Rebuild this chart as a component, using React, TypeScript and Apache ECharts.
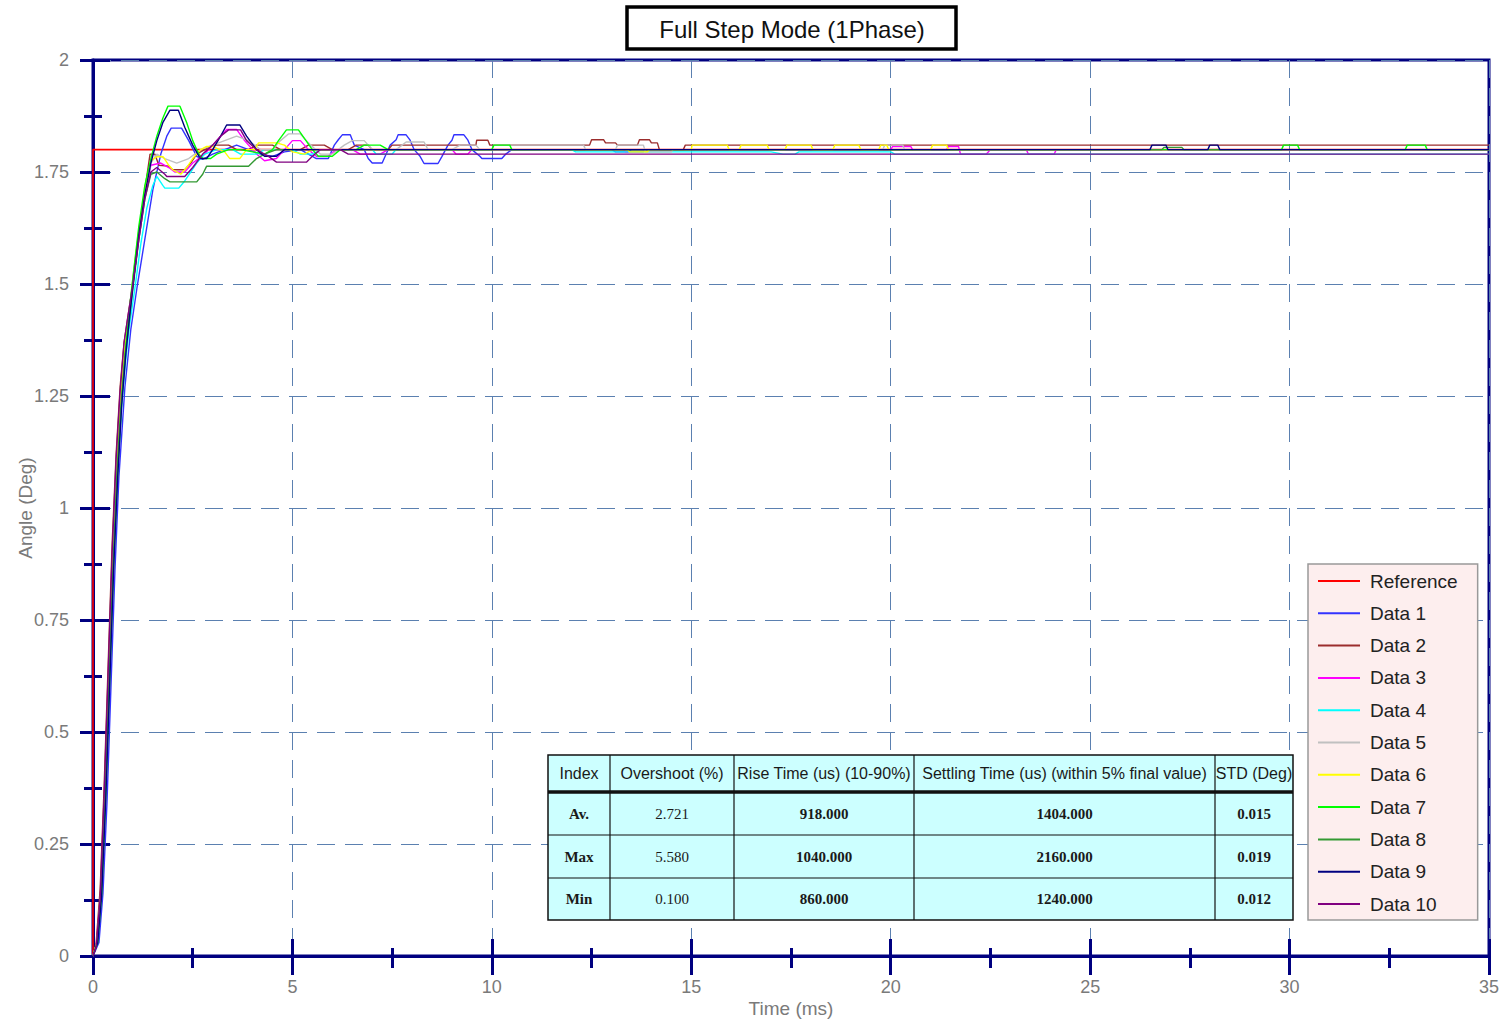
import React, { useEffect, useRef } from "react";
import * as echarts from "echarts";

const chartTitle = "Full Step Mode (1Phase)";
const xAxisName = "Time (ms)";
const yAxisName = "Angle (Deg)";

const seriesNames = ["Reference", "Data 1", "Data 2", "Data 3", "Data 4", "Data 5", "Data 6", "Data 7", "Data 8", "Data 9", "Data 10"];
const seriesColors = ["#ff0000", "#3333ff", "#9b2d2d", "#ff00ff", "#00ffff", "#c0c0c0", "#ffff00", "#00ff00", "#339933", "#000080", "#800080"];

const referencePoints = [[0, 0], [0, 1.8], [35, 1.8]];

const data1Points = [
  [0, 0], [0.15, 0.03], [0.25, 0.14], [0.35, 0.34], [0.45, 0.6], [0.55, 0.86], [0.65, 1.07], [0.8, 1.27], [0.95, 1.4], [1.1, 1.49],
  [1.3, 1.6], [1.5, 1.71], [1.7, 1.79], [1.85, 1.83], [1.96, 1.848], [2.22, 1.848], [2.4, 1.82], [2.6, 1.785], [2.75, 1.778], [3.0, 1.79],
  [3.3, 1.8], [3.6, 1.81], [3.9, 1.8], [4.2, 1.79], [4.5, 1.785], [4.8, 1.795], [5.2, 1.8], [5.6, 1.78], [5.9, 1.78], [6.05, 1.81],
  [6.15, 1.822], [6.25, 1.833], [6.45, 1.833], [6.55, 1.81], [6.8, 1.8], [6.9, 1.78], [7.0, 1.77], [7.25, 1.77], [7.35, 1.79], [7.45, 1.81],
  [7.6, 1.822], [7.65, 1.833], [7.85, 1.833], [7.95, 1.821], [8.05, 1.8], [8.2, 1.785], [8.3, 1.769], [8.65, 1.769], [8.75, 1.785], [8.9, 1.81],
  [9.0, 1.821], [9.05, 1.833], [9.3, 1.833], [9.4, 1.821], [9.5, 1.8], [9.7, 1.785], [9.75, 1.78], [10.25, 1.78], [10.35, 1.79], [10.5, 1.8],
  [13.0, 1.8], [13.1, 1.795], [13.4, 1.795], [13.5, 1.8], [35, 1.8]
];

const data2Points = [
  [0, 0], [0.08, 0.03], [0.18, 0.15], [0.28, 0.38], [0.38, 0.65], [0.48, 0.92], [0.58, 1.12], [0.68, 1.27], [0.78, 1.37], [0.88, 1.43],
  [1.0, 1.5], [1.15, 1.61], [1.3, 1.71], [1.43, 1.79], [1.55, 1.79], [1.65, 1.765], [1.9, 1.763], [2.0, 1.755], [2.3, 1.755], [2.45, 1.77],
  [2.6, 1.79], [2.8, 1.8], [3.0, 1.81], [3.4, 1.81], [3.6, 1.8], [3.9, 1.8], [4.1, 1.81], [4.5, 1.81], [4.7, 1.8], [5.2, 1.8],
  [5.4, 1.81], [5.8, 1.81], [6.0, 1.8], [6.4, 1.8], [6.6, 1.81], [6.9, 1.81], [7.0, 1.8], [7.4, 1.8], [7.5, 1.81], [9.6, 1.81],
  [9.62, 1.821], [9.9, 1.821], [9.95, 1.81], [12.45, 1.81], [12.5, 1.822], [12.8, 1.822], [12.85, 1.815], [13.1, 1.815], [13.15, 1.81], [13.65, 1.81],
  [13.7, 1.822], [13.95, 1.822], [14.0, 1.815], [14.15, 1.815], [14.2, 1.8], [14.8, 1.8], [14.85, 1.81], [35, 1.81]
];

const data3Points = [
  [0, 0], [0.1, 0.03], [0.2, 0.14], [0.3, 0.36], [0.4, 0.62], [0.5, 0.88], [0.6, 1.09], [0.7, 1.24], [0.8, 1.35], [0.9, 1.42],
  [1.0, 1.5], [1.15, 1.6], [1.3, 1.7], [1.45, 1.765], [1.7, 1.77], [1.9, 1.76], [2.05, 1.75], [2.3, 1.75], [2.5, 1.77], [2.8, 1.79],
  [3.1, 1.82], [3.35, 1.845], [3.6, 1.845], [3.8, 1.82], [4.1, 1.79], [4.3, 1.775], [4.6, 1.78], [4.8, 1.8], [5.0, 1.82], [5.2, 1.82],
  [5.4, 1.8], [5.6, 1.785], [5.9, 1.785], [6.1, 1.8], [6.5, 1.8], [6.7, 1.79], [7.2, 1.79], [7.4, 1.8], [9.0, 1.8], [9.1, 1.79],
  [9.4, 1.79], [9.5, 1.8], [13.3, 1.8], [13.35, 1.795], [13.8, 1.795], [13.85, 1.8], [20.0, 1.8], [20.05, 1.807], [20.5, 1.807], [20.55, 1.8],
  [21.4, 1.8], [21.45, 1.807], [21.7, 1.807], [21.75, 1.79], [22.4, 1.79], [22.5, 1.8], [23.4, 1.8], [23.45, 1.79], [24.1, 1.79], [24.15, 1.8],
  [35, 1.8]
];

const data4Points = [
  [0, 0], [0.1, 0.03], [0.2, 0.13], [0.3, 0.34], [0.4, 0.6], [0.5, 0.86], [0.6, 1.06], [0.72, 1.23], [0.82, 1.33], [0.92, 1.41],
  [1.05, 1.49], [1.2, 1.59], [1.35, 1.67], [1.5, 1.72], [1.6, 1.74], [1.75, 1.72], [1.8, 1.714], [2.15, 1.714], [2.3, 1.73], [2.45, 1.75],
  [2.6, 1.77], [2.8, 1.79], [3.1, 1.8], [3.5, 1.8], [3.7, 1.79], [4.1, 1.79], [4.3, 1.8], [5.0, 1.8], [5.2, 1.79], [5.5, 1.79],
  [5.7, 1.8], [7.0, 1.8], [7.1, 1.79], [7.5, 1.79], [7.6, 1.8], [12.0, 1.8], [12.1, 1.795], [17.0, 1.795], [17.3, 1.79], [17.6, 1.79],
  [17.7, 1.795], [20.0, 1.795], [20.1, 1.79], [35, 1.79]
];

const data5Points = [
  [0, 0], [0.1, 0.03], [0.2, 0.15], [0.3, 0.37], [0.4, 0.63], [0.5, 0.9], [0.6, 1.1], [0.7, 1.25], [0.8, 1.36], [0.9, 1.43],
  [1.0, 1.51], [1.15, 1.62], [1.3, 1.7], [1.45, 1.77], [1.6, 1.79], [1.8, 1.78], [2.1, 1.77], [2.4, 1.78], [2.7, 1.8], [3.0, 1.81],
  [3.3, 1.82], [3.6, 1.83], [3.9, 1.82], [4.2, 1.8], [4.5, 1.8], [4.7, 1.82], [4.9, 1.835], [5.2, 1.835], [5.4, 1.815], [5.7, 1.79],
  [6.0, 1.79], [6.3, 1.81], [6.5, 1.82], [6.8, 1.82], [7.0, 1.8], [7.6, 1.8], [7.75, 1.81], [7.85, 1.817], [8.3, 1.817], [8.4, 1.8],
  [9.0, 1.8], [9.2, 1.81], [9.6, 1.81], [9.7, 1.8], [10.0, 1.8], [10.05, 1.81], [12.3, 1.81], [12.35, 1.8], [13.1, 1.8], [13.15, 1.81],
  [13.8, 1.81], [13.85, 1.795], [14.5, 1.795], [14.55, 1.8], [19.8, 1.8], [19.85, 1.81], [20.3, 1.81], [20.35, 1.8], [35, 1.8]
];

const data6Points = [
  [0, 0], [0.1, 0.03], [0.2, 0.14], [0.3, 0.37], [0.4, 0.63], [0.5, 0.89], [0.6, 1.1], [0.7, 1.25], [0.8, 1.36], [0.9, 1.43],
  [1.0, 1.51], [1.15, 1.62], [1.3, 1.71], [1.45, 1.775], [1.6, 1.784], [1.76, 1.784], [1.9, 1.765], [2.0, 1.755], [2.2, 1.745], [2.35, 1.76],
  [2.5, 1.78], [2.7, 1.8], [2.85, 1.807], [3.0, 1.807], [3.3, 1.795], [3.43, 1.78], [3.68, 1.78], [3.85, 1.8], [4.05, 1.8], [4.15, 1.815],
  [4.6, 1.815], [4.8, 1.81], [5.0, 1.795], [5.3, 1.79], [5.5, 1.8], [13.4, 1.8], [13.45, 1.795], [13.9, 1.795], [13.95, 1.8], [15.0, 1.8],
  [15.02, 1.81], [15.9, 1.81], [15.95, 1.8], [16.2, 1.8], [16.25, 1.81], [16.9, 1.81], [16.95, 1.8], [17.35, 1.8], [17.4, 1.81], [18.0, 1.81],
  [18.05, 1.8], [18.55, 1.8], [18.6, 1.81], [19.2, 1.81], [19.25, 1.8], [19.7, 1.8], [19.75, 1.81], [19.9, 1.81], [19.95, 1.8], [21.0, 1.8],
  [21.05, 1.81], [21.4, 1.81], [21.45, 1.8], [35, 1.8]
];

const data7Points = [
  [0, 0], [0.12, 0.03], [0.22, 0.14], [0.32, 0.36], [0.42, 0.62], [0.52, 0.88], [0.62, 1.08], [0.72, 1.24], [0.82, 1.36], [0.92, 1.45],
  [1.02, 1.53], [1.15, 1.63], [1.3, 1.72], [1.45, 1.78], [1.6, 1.83], [1.75, 1.87], [1.88, 1.897], [2.18, 1.897], [2.35, 1.86], [2.5, 1.82],
  [2.65, 1.79], [2.75, 1.78], [2.95, 1.78], [3.1, 1.79], [3.4, 1.8], [3.7, 1.8], [4.0, 1.795], [4.3, 1.79], [4.5, 1.8], [4.65, 1.82],
  [4.85, 1.844], [5.15, 1.844], [5.3, 1.825], [5.5, 1.8], [5.65, 1.785], [6.0, 1.785], [6.2, 1.8], [6.6, 1.8], [6.8, 1.81], [7.2, 1.81],
  [7.4, 1.8], [10.0, 1.8], [10.05, 1.81], [10.45, 1.81], [10.5, 1.8], [29.8, 1.8], [29.85, 1.81], [30.2, 1.81], [30.25, 1.8], [32.9, 1.8],
  [32.95, 1.81], [33.4, 1.81], [33.45, 1.8], [35, 1.8]
];

const data8Points = [
  [0, 0], [0.1, 0.03], [0.2, 0.14], [0.3, 0.35], [0.4, 0.61], [0.5, 0.87], [0.6, 1.08], [0.7, 1.23], [0.8, 1.34], [0.9, 1.41],
  [1.0, 1.49], [1.15, 1.6], [1.3, 1.69], [1.45, 1.745], [1.6, 1.75], [1.8, 1.735], [1.93, 1.728], [2.6, 1.728], [2.75, 1.745], [2.85, 1.763],
  [3.9, 1.763], [4.1, 1.78], [4.3, 1.79], [4.6, 1.8], [26.8, 1.8], [26.85, 1.805], [27.3, 1.805], [27.35, 1.8], [35, 1.8]
];

const data9Points = [
  [0, 0], [0.12, 0.03], [0.22, 0.14], [0.32, 0.35], [0.42, 0.61], [0.52, 0.87], [0.62, 1.07], [0.72, 1.23], [0.82, 1.34], [0.92, 1.43],
  [1.02, 1.51], [1.15, 1.61], [1.3, 1.7], [1.45, 1.77], [1.6, 1.82], [1.75, 1.86], [1.93, 1.888], [2.14, 1.888], [2.3, 1.85], [2.5, 1.81],
  [2.69, 1.78], [2.85, 1.78], [3.0, 1.8], [3.2, 1.83], [3.35, 1.855], [3.68, 1.855], [3.85, 1.83], [4.1, 1.8], [4.3, 1.785], [4.6, 1.785],
  [4.8, 1.8], [26.5, 1.8], [26.55, 1.81], [26.9, 1.81], [26.95, 1.8], [27.95, 1.8], [28.0, 1.81], [28.2, 1.81], [28.25, 1.8], [35, 1.8]
];

const data10Points = [
  [0, 0], [0.08, 0.02], [0.18, 0.13], [0.28, 0.36], [0.38, 0.63], [0.48, 0.9], [0.58, 1.11], [0.68, 1.26], [0.78, 1.37], [0.88, 1.43],
  [1.0, 1.5], [1.15, 1.6], [1.3, 1.69], [1.45, 1.75], [1.6, 1.76], [1.8, 1.745], [1.85, 1.74], [2.3, 1.74], [2.5, 1.76], [2.75, 1.79],
  [3.0, 1.81], [3.2, 1.83], [3.4, 1.844], [3.7, 1.844], [3.85, 1.82], [4.1, 1.8], [4.4, 1.785], [4.6, 1.772], [5.35, 1.772], [5.5, 1.785],
  [5.7, 1.8], [6.2, 1.8], [6.4, 1.79], [35, 1.79]
];

const allSeriesPoints = [referencePoints, data1Points, data2Points, data3Points, data4Points, data5Points, data6Points, data7Points, data8Points, data9Points, data10Points];

const tableHeaders = ["Index", "Overshoot (%)", "Rise Time (us) (10-90%)", "Settling Time (us) (within 5% final value)", "STD (Deg)"];
const rowLabels = ["Av.", "Max", "Min"];
const overshootValues = ["2.721", "5.580", "0.100"];
const riseTimeValues = ["918.000", "1040.000", "860.000"];
const settlingValues = ["1404.000", "2160.000", "1240.000"];
const stdValues = ["0.015", "0.019", "0.012"];

const SANS = "'Liberation Sans', Arial, Helvetica, sans-serif";
const SERIF = "'Liberation Serif', 'Times New Roman', serif";

function buildTable() {
  const colX = [548, 610, 734, 914, 1215, 1293];
  const rowY = [755, 792, 835, 878, 920];
  const els: any[] = [];
  els.push({
    type: "rect",
    shape: { x: colX[0], y: rowY[0], width: colX[5] - colX[0], height: rowY[4] - rowY[0] },
    style: { fill: "#ccffff", stroke: "#111", lineWidth: 1.5 },
    z: 100,
  });
  for (let i = 1; i < colX.length - 1; i++) {
    els.push({ type: "line", shape: { x1: colX[i], y1: rowY[0], x2: colX[i], y2: rowY[4] }, style: { stroke: "#111", lineWidth: 1.2 }, z: 101 });
  }
  for (let j = 1; j < rowY.length - 1; j++) {
    els.push({ type: "line", shape: { x1: colX[0], y1: rowY[j], x2: colX[5], y2: rowY[j] }, style: { stroke: "#111", lineWidth: j === 1 ? 3.5 : 1.2 }, z: 101 });
  }
  tableHeaders.forEach((h, i) => {
    els.push({
      type: "text",
      x: (colX[i] + colX[i + 1]) / 2,
      y: (rowY[0] + rowY[1]) / 2,
      style: { text: h, fill: "#1a1a1a", font: `16px ${SANS}`, align: "center", verticalAlign: "middle" },
      z: 102,
    });
  });
  const cols = [rowLabels, overshootValues, riseTimeValues, settlingValues, stdValues];
  cols.forEach((col, i) => {
    col.forEach((val, r) => {
      const bold = i !== 1;
      els.push({
        type: "text",
        x: (colX[i] + colX[i + 1]) / 2,
        y: (rowY[r + 1] + rowY[r + 2]) / 2,
        style: { text: val, fill: "#1a1a1a", font: `${bold ? "bold " : ""}15px ${SERIF}`, align: "center", verticalAlign: "middle" },
        z: 102,
      });
    });
  });
  return els;
}

export default function App() {
  const ref = useRef<HTMLDivElement>(null);
  useEffect(() => {
    if (!ref.current) return;
    const chart = echarts.init(ref.current, null, { renderer: "svg" });
    const axisColor = "#000080";
    const labelColor = "#7a7a7a";
    const split = { show: true, lineStyle: { color: "#5b80b0", type: [18, 10], width: 1 } };
    const option: any = {
      animation: false,
      backgroundColor: "#ffffff",
      grid: {
        left: 93, right: 20, top: 60, bottom: 64, show: true, borderColor: axisColor, borderWidth: 3,
        backgroundColor: "transparent", containLabel: false, outerBoundsMode: "none",
      },
      legend: {
        data: seriesNames,
        orient: "vertical",
        left: 1308,
        top: 564,
        icon: "rect",
        itemWidth: 42,
        itemHeight: 2,
        itemGap: 12.3,
        padding: [7, 20, 6, 10],
        backgroundColor: "#fdeeee",
        borderColor: "#999999",
        borderWidth: 1.5,
        textStyle: { fontSize: 19, color: "#222", fontFamily: SANS, lineHeight: 20, padding: [0, 0, 0, 5] },
      },
      xAxis: [
        {
          type: "value", min: 0, max: 35, interval: 5, position: "bottom",
          name: xAxisName, nameLocation: "middle", nameGap: 43, nameMoveOverlap: false,
          nameTextStyle: { fontSize: 19, color: labelColor, fontFamily: SANS },
          axisLine: { show: true, onZero: false, lineStyle: { color: axisColor, width: 3 } },
          axisTick: { show: true, inside: false, length: 19, lineStyle: { color: axisColor, width: 3 } },
          minorTick: { show: true, splitNumber: 2, length: 12, lineStyle: { color: axisColor, width: 3 } },
          axisLabel: { margin: 22, fontSize: 18, color: labelColor, fontFamily: SANS },
          splitLine: split,
        },
        {
          type: "value", min: 0, max: 35, interval: 5, position: "bottom", gridIndex: 0,
          axisLine: { show: false },
          axisTick: { show: true, inside: true, length: 17, lineStyle: { color: axisColor, width: 3 } },
          minorTick: { show: true, splitNumber: 2, length: 8, lineStyle: { color: axisColor, width: 3 } },
          axisLabel: { show: false },
          splitLine: { show: false },
        },
      ],
      yAxis: [
        {
          type: "value", min: 0, max: 2, interval: 0.25, position: "left",
          name: yAxisName, nameLocation: "middle", nameGap: 58, nameRotate: 90, nameMoveOverlap: false,
          nameTextStyle: { fontSize: 19, color: labelColor, fontFamily: SANS },
          axisLine: { show: true, onZero: false, lineStyle: { color: axisColor, width: 3 } },
          axisTick: { show: true, inside: false, length: 13, lineStyle: { color: axisColor, width: 3 } },
          minorTick: { show: true, splitNumber: 2, length: 9, lineStyle: { color: axisColor, width: 3 } },
          axisLabel: { margin: 24, fontSize: 18, color: labelColor, fontFamily: SANS },
          splitLine: split,
        },
        {
          type: "value", min: 0, max: 2, interval: 0.25, position: "left", gridIndex: 0,
          axisLine: { show: false },
          axisTick: { show: true, inside: true, length: 17, lineStyle: { color: axisColor, width: 3 } },
          minorTick: { show: true, splitNumber: 2, length: 9, lineStyle: { color: axisColor, width: 3 } },
          axisLabel: { show: false },
          splitLine: { show: false },
        },
      ],
      series: allSeriesPoints.map((pts, i) => ({
        name: seriesNames[i],
        type: "line",
        xAxisIndex: 0,
        yAxisIndex: 0,
        data: pts,
        symbol: "none",
        color: seriesColors[i],
        lineStyle: { color: seriesColors[i], width: i === 0 ? 1.6 : 1.4 },
        z: 3,
      })),
      graphic: [
        {
          type: "rect",
          shape: { x: 627, y: 7, width: 329, height: 42 },
          style: { fill: "#ffffff", stroke: "#000000", lineWidth: 3.5 },
          z: 100,
        },
        {
          type: "text",
          x: 792,
          y: 29,
          style: { text: chartTitle, fill: "#111", font: `24px ${SANS}`, align: "center", verticalAlign: "middle" },
          z: 101,
        },
        ...buildTable(),
      ],
    };
    chart.setOption(option);
    return () => chart.dispose();
  }, []);
  return <div ref={ref} style={{ position: "absolute", left: 0, top: 0, width: 1509, height: 1020, background: "#fff" }} />;
}
